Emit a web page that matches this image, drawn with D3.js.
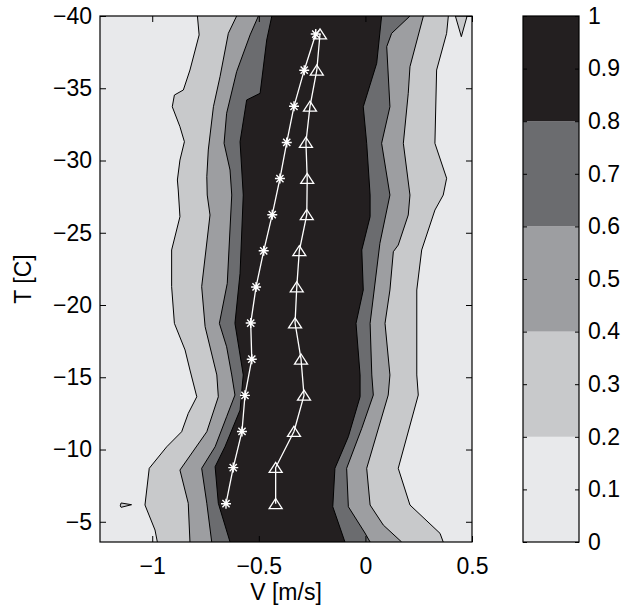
<!DOCTYPE html>
<html><head><meta charset="utf-8">
<script src="https://cdn.jsdelivr.net/npm/d3@7"></script>
<style>body{margin:0;background:#fff} svg text{font-family:"Liberation Sans",Arial,Helvetica,sans-serif;}</style>
</head><body><svg id="c" width="630" height="607"></svg>
<script>
// ---------- data ----------
const contourLevels = [0, 0.2, 0.4, 0.6, 0.8, 1];
const xTicks = [-1, -0.5, 0, 0.5];
const xTickLabels = ["\u22121", "\u22120.5", "0", "0.5"];
const yTicks = [-40, -35, -30, -25, -20, -15, -10, -5];
const yTickLabels = ["\u221240", "\u221235", "\u221230", "\u221225", "\u221220", "\u221215", "\u221210", "\u22125"];
const cbTicks = [0, 0.1, 0.2, 0.3, 0.4, 0.5, 0.6, 0.7, 0.8, 0.9, 1];
const cbTickLabels = ["0", "0.1", "0.2", "0.3", "0.4", "0.5", "0.6", "0.7", "0.8", "0.9", "1"];

// contour boundaries, [V, T]
const left02 = [[-0.788,-40],[-0.780,-38.69],[-0.823,-36.26],[-0.854,-34.88],[-0.896,-34.53],[-0.906,-33.72],[-0.870,-32.34],[-0.849,-31.30],[-0.870,-30.03],[-0.882,-28.65],[-0.878,-27.96],[-0.870,-26.11],[-0.909,-23.81],[-0.909,-21.27],[-0.896,-18.73],[-0.846,-16.89],[-0.823,-15.50],[-0.791,-13.65],[-0.831,-12.50],[-0.862,-11.23],[-0.932,-10.19],[-1.014,-8.70],[-1.034,-6.16],[-0.987,-4.43],[-0.976,-3.6]];
const right02 = [[0.389,-40],[0.381,-38.80],[0.334,-36.26],[0.326,-31.19],[0.381,-28.77],[0.365,-27.61],[0.326,-26.57],[0.264,-23.81],[0.241,-21.04],[0.241,-15.16],[0.248,-13.77],[0.154,-8.70],[0.209,-6.16],[0.350,-4.20],[0.365,-3.6]];
const left04 = [[-0.604,-40],[-0.643,-38.80],[-0.682,-35.80],[-0.713,-33.72],[-0.737,-30.73],[-0.744,-28.88],[-0.742,-27.61],[-0.729,-26.23],[-0.768,-21.27],[-0.752,-18.50],[-0.697,-15.16],[-0.690,-13.65],[-0.744,-11.23],[-0.870,-8.58],[-0.831,-6.28],[-0.823,-3.6]];
const right04 = [[0.272,-40],[0.209,-36.49],[0.201,-34.65],[0.178,-31.19],[0.209,-27.61],[0.201,-26.23],[0.154,-24.15],[0.131,-23.69],[0.115,-21.04],[0.092,-18.73],[0.115,-15.16],[0.107,-13.77],[0.006,-8.70],[0.022,-6.16],[0.084,-4.77],[0.170,-3.6]];
const left06 = [[-0.502,-40],[-0.541,-38.69],[-0.604,-36.15],[-0.651,-33.27],[-0.663,-31.19],[-0.635,-29.34],[-0.627,-27.61],[-0.648,-21.50],[-0.685,-18.73],[-0.651,-17.11],[-0.627,-15.16],[-0.612,-13.77],[-0.651,-12.27],[-0.705,-10.19],[-0.768,-8.70],[-0.744,-6.28],[-0.721,-3.6]];
const right06 = [[0.209,-40],[0.123,-38.80],[0.100,-37.88],[0.115,-33.72],[0.076,-31.19],[0.115,-27.61],[0.068,-24.27],[0.022,-18.73],[0.030,-15.16],[0.037,-13.77],[-0.017,-11.47],[-0.088,-8.70],[-0.080,-6.04],[-0.002,-4.22],[0.022,-3.6]];
const left08 = [[-0.439,-40],[-0.463,-38.34],[-0.494,-34.65],[-0.557,-34.19],[-0.588,-31.30],[-0.573,-27.61],[-0.588,-22.19],[-0.612,-18.73],[-0.573,-15.16],[-0.588,-12.73],[-0.659,-10.19],[-0.705,-8.81],[-0.690,-6.28],[-0.635,-3.6]];
const right08 = [[0.076,-40],[0.053,-36.73],[-0.010,-33.72],[0.006,-31.19],[0.022,-27.61],[0.022,-26.11],[-0.017,-23.81],[-0.010,-21.04],[-0.044,-18.73],[-0.025,-15.16],[-0.025,-13.65],[-0.080,-10.89],[-0.143,-8.70],[-0.153,-6.04],[-0.096,-3.6]];
const island02Top = [[0.422,-40],[0.450,-38.57],[0.477,-40]];
const island02Low = [[-1.150,-6.10],[-1.146,-6.30],[-1.097,-6.18],[-1.146,-6.00]];

// profiles
const tempC = [-38.75,-36.25,-33.75,-31.25,-28.75,-26.25,-23.75,-21.25,-18.75,-16.25,-13.75,-11.25,-8.75,-6.25];
const vStar = [-0.233,-0.287,-0.335,-0.369,-0.401,-0.437,-0.477,-0.513,-0.538,-0.533,-0.565,-0.579,-0.620,-0.654];
const vTri  = [-0.213,-0.228,-0.260,-0.279,-0.273,-0.275,-0.310,-0.322,-0.330,-0.302,-0.288,-0.335,-0.421,-0.421];

// ---------- drawing ----------
const bandColors = ["#e8e9eb", "#c8c9cb", "#9d9ea1", "#6b6c6f", "#231f20"];
const FONT = 23;
const svg = d3.select("#c");
const P = {l: 100, r: 472, t: 16, b: 542};
const x = d3.scaleLinear().domain([-1.245, 0.5]).range([P.l, P.r]);
const y = d3.scaleLinear().domain([-40, -3.6]).range([P.t, P.b]);
const line = d3.line().x(d => x(d[0])).y(d => y(d[1]));

svg.append("defs").append("clipPath").attr("id", "pc").append("rect")
  .attr("x", P.l).attr("y", P.t).attr("width", P.r - P.l).attr("height", P.b - P.t);
const g = svg.append("g").attr("clip-path", "url(#pc)");
g.append("rect").attr("x", P.l).attr("y", P.t).attr("width", P.r - P.l).attr("height", P.b - P.t)
  .attr("fill", bandColors[0]);

const bounds = [[left02, right02], [left04, right04], [left06, right06], [left08, right08]];
bounds.forEach(([L, R], i) => {
  g.append("path").attr("d", line(L.concat(R.slice().reverse())) + "Z").attr("fill", bandColors[i + 1]);
});
[island02Top, island02Low].forEach(isl => {
  g.append("path").attr("d", line(isl) + "Z").attr("fill", bandColors[1])
    .attr("stroke", "#000").attr("stroke-width", 1);
});
bounds.forEach(([L, R]) => {
  [L, R].forEach(b => g.append("path").attr("d", line(b)).attr("fill", "none")
    .attr("stroke", "#000").attr("stroke-width", 1).attr("stroke-linejoin", "round"));
});

// profile lines
const starPts = tempC.map((t, i) => [vStar[i], t]);
const triPts = tempC.map((t, i) => [vTri[i], t]);
[starPts, triPts].forEach(pts => g.append("path").attr("d", line(pts)).attr("fill", "none")
  .attr("stroke", "#fff").attr("stroke-width", 1.3));

const asterisk = {draw(ctx, size) {
  const r = Math.sqrt(size) / 2, d = r * 0.72;
  ctx.moveTo(-r, 0); ctx.lineTo(r, 0);
  ctx.moveTo(0, -r); ctx.lineTo(0, r);
  ctx.moveTo(-d, -d); ctx.lineTo(d, d);
  ctx.moveTo(-d, d); ctx.lineTo(d, -d);
}};
const tri = {draw(ctx, size) {
  const s = Math.sqrt(size) / 2;
  ctx.moveTo(0, -s * 0.8); ctx.lineTo(s, s * 0.75); ctx.lineTo(-s, s * 0.75); ctx.closePath();
}};
g.selectAll(".star").data(starPts).join("path")
  .attr("transform", d => `translate(${x(d[0])},${y(d[1])})`)
  .attr("d", d3.symbol().type(asterisk).size(100))
  .attr("fill", "none").attr("stroke", "#fff").attr("stroke-width", 1.4);
g.selectAll(".tri").data(triPts).join("path")
  .attr("transform", d => `translate(${x(d[0])},${y(d[1])})`)
  .attr("d", d3.symbol().type(tri).size(169))
  .attr("fill", "none").attr("stroke", "#fff").attr("stroke-width", 1.3);

// axes
function axis(gen, tx, ty) {
  const a = svg.append("g").attr("transform", `translate(${tx},${ty})`).call(gen);
  a.select(".domain").remove();
  a.attr("font-size", FONT).attr("font-family", "Liberation Sans, Arial, sans-serif");
  a.selectAll("line").attr("stroke", "#000").attr("stroke-width", 1);
  a.selectAll("text").attr("fill", "#000");
  return a;
}
axis(d3.axisBottom(x).tickValues(xTicks).tickFormat((d, i) => xTickLabels[i]).tickSizeInner(-6).tickSizeOuter(0).tickPadding(16), 0, P.b);
axis(d3.axisTop(x).tickValues(xTicks).tickFormat("").tickSizeInner(-6).tickSizeOuter(0), 0, P.t);
axis(d3.axisLeft(y).tickValues(yTicks).tickFormat((d, i) => yTickLabels[i]).tickSizeInner(-6).tickSizeOuter(0).tickPadding(8), P.l, 0);
axis(d3.axisRight(y).tickValues(yTicks).tickFormat("").tickSizeInner(-6).tickSizeOuter(0), P.r, 0);

svg.append("rect").attr("x", P.l).attr("y", P.t).attr("width", P.r - P.l).attr("height", P.b - P.t)
  .attr("fill", "none").attr("stroke", "#000").attr("stroke-width", 1.2);

svg.append("text").attr("x", (P.l + P.r) / 2).attr("y", 600).attr("text-anchor", "middle")
  .attr("font-size", FONT).text("V [m/s]");
svg.append("text").attr("transform", `translate(31,${(P.t + P.b) / 2}) rotate(-90)`).attr("text-anchor", "middle")
  .attr("font-size", FONT).text("T [C]");

// colorbar
const C = {l: 523, r: 579, t: 16, b: 542};
const cy = d3.scaleLinear().domain([0, 1]).range([C.b, C.t]);
for (let i = 0; i < contourLevels.length - 1; i++) {
  svg.append("rect").attr("x", C.l).attr("width", C.r - C.l)
    .attr("y", cy(contourLevels[i + 1])).attr("height", cy(contourLevels[i]) - cy(contourLevels[i + 1]))
    .attr("fill", bandColors[i]);
}
axis(d3.axisRight(cy).tickValues(cbTicks).tickFormat((d, i) => cbTickLabels[i]).tickSizeInner(-4).tickSizeOuter(0).tickPadding(9), C.r, 0);
axis(d3.axisLeft(cy).tickValues(cbTicks).tickFormat("").tickSizeInner(-4).tickSizeOuter(0), C.l, 0);
svg.append("rect").attr("x", C.l).attr("y", C.t).attr("width", C.r - C.l).attr("height", C.b - C.t)
  .attr("fill", "none").attr("stroke", "#000").attr("stroke-width", 1.2);
</script>
</body></html>
